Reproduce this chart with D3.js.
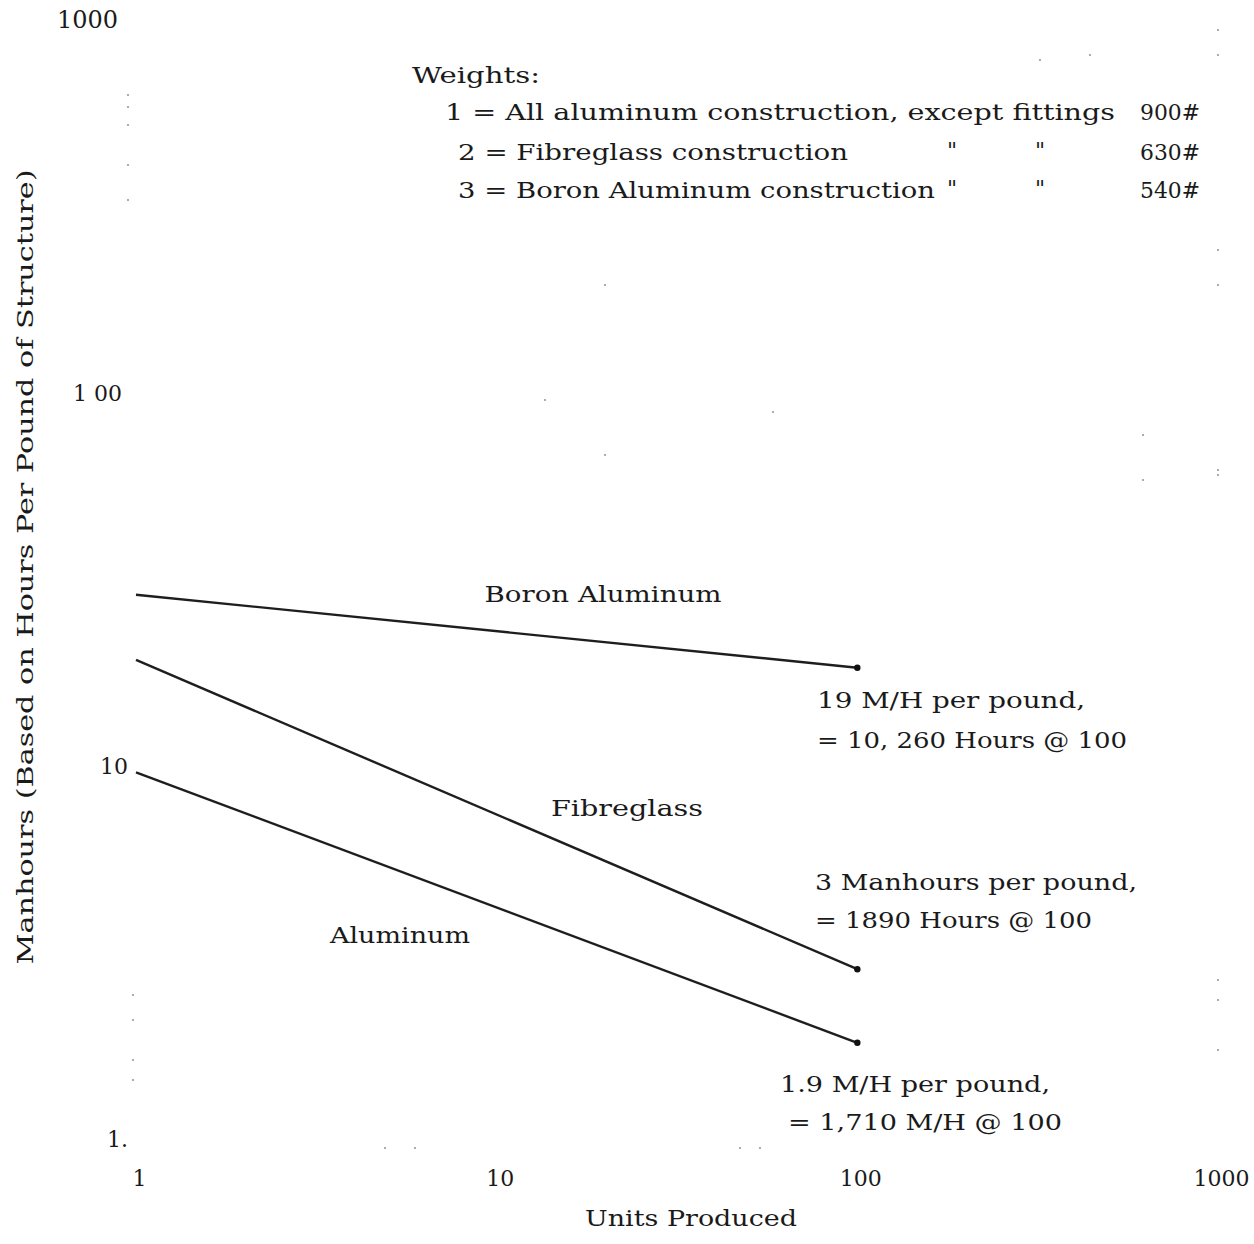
<!DOCTYPE html>
<html><head><meta charset="utf-8">
<script src="https://cdn.jsdelivr.net/npm/d3@7"></script>
<style>
html,body{margin:0;padding:0;background:#fff;}
text{font-family:"DejaVu Serif","Liberation Serif",serif;fill:#1a1a1a;}
</style></head>
<body>
<svg id="c" width="1254" height="1244"></svg>
<script>
// ---- data ----
const seriesNames = ["Aluminum", "Fibreglass", "Boron Aluminum"];
const unitsProduced = [1, 100];
const aluminumMH = [9.6, 1.81];
const fibreglassMH = [19.2, 2.85];
const boronMH = [28.7, 18.3];
const xTickValues = [1, 10, 100, 1000];
const xTickLabels = ["1", "10", "100", "1000"];
const yTickValues = [1, 10, 100, 1000];
const yTickLabels = ["1.", "10", "1 00", "1000"];
const weightLines = [
  ["1 = All aluminum construction, except fittings", "", "", "900#"],
  ["2 = Fibreglass construction", "\"", "\"", "630#"],
  ["3 = Boron Aluminum construction", "\"", "\"", "540#"]
];
const endNotes = [
  ["19 M/H per pound,", "= 10, 260 Hours @ 100"],
  ["3 Manhours per pound,", "= 1890 Hours @ 100"],
  ["1.9 M/H per pound,", "= 1,710 M/H @ 100"]
];

const svg = d3.select("#c");
const x = d3.scaleLog().domain([1, 1000]).range([136, 1218]);
const y = d3.scaleLog().domain([1, 1000]).range([1139, 19]);

function txt(s, px, py, opts = {}) {
  const t = svg.append("text").attr("x", px).attr("y", py).text(s)
    .style("font-size", (opts.size || 22) + "px");
  if (opts.anchor) t.attr("text-anchor", opts.anchor);
  if (opts.len) t.attr("textLength", opts.len).attr("lengthAdjust", "spacingAndGlyphs");
  if (opts.weight) t.style("font-weight", opts.weight);
  if (opts.rotate) t.attr("transform", `rotate(${opts.rotate},${px},${py})`);
  return t;
}

// faint scan dots along the former grid
const faint = svg.append("g").attr("fill", "#999");
[120, 132, 150, 190, 225].forEach(v => faint.append("circle").attr("cx", 128).attr("cy", v - 25).attr("r", 1.1));
[995, 1020, 1060, 1080].forEach(v => faint.append("circle").attr("cx", 133).attr("cy", v).attr("r", 1.1));
[[385,1148],[415,1148],[740,1148],[760,1148],[1218,30],[1218,55],[1218,250],[1218,285],[1218,470],[1218,475],[1218,980],[1218,1000],[1218,1050],[1143,435],[1143,480],[605,285],[605,455],[773,412],[545,400],[1040,60],[1090,55]].forEach(p => faint.append("circle").attr("cx", p[0]).attr("cy", p[1]).attr("r", 1.1));

// axis tick labels
const yAx = d3.axisLeft(y).tickValues(yTickValues).tickFormat((d, i) => yTickLabels[i]).tickSize(0).tickPadding(10);
const gy = svg.append("g").attr("transform", "translate(138,0)").call(yAx);
gy.select(".domain").remove();
gy.selectAll("text").style("font-size", "22px").style("font-family", "\"DejaVu Serif\",serif").attr("fill", "#111").attr("dy", "0.35em");
gy.selectAll("text").filter(d => d === 100).attr("transform", "translate(-6,0)");
gy.selectAll("text").filter(d => d === 1000).attr("transform", "translate(-10,0)").style("font-size", "24px");

const xAx = d3.axisBottom(x).tickValues(xTickValues).tickFormat((d, i) => xTickLabels[i]).tickSize(0).tickPadding(0);
const gx = svg.append("g").attr("transform", "translate(3,1170)").call(xAx);
gx.select(".domain").remove();
gx.selectAll("text").style("font-size", "22px").style("font-family", "\"DejaVu Serif\",serif").attr("fill", "#111").attr("dy", "0.71em");

// axis titles
txt("Units Produced", 691, 1226, {anchor: "middle", len: 212});
txt("Manhours (Based on Hours Per Pound of Structure)", 33, 567, {anchor: "middle", len: 795, rotate: -90});

// lines
const series = [aluminumMH, fibreglassMH, boronMH];
const line = d3.line().x((d, i) => x(unitsProduced[i])).y(d => y(d));
svg.append("g").selectAll("path").data(series).join("path")
  .attr("d", d => line(d)).attr("fill", "none").attr("stroke", "#1e1e1e").attr("stroke-width", 2.4);
svg.append("g").selectAll("circle").data(series).join("circle")
  .attr("cx", x(unitsProduced[1])).attr("cy", d => y(d[1])).attr("r", 3.2).attr("fill", "#111");

// series labels
txt(seriesNames[2], 603, 602, {anchor: "middle", len: 237});
txt(seriesNames[1], 627, 816, {anchor: "middle", len: 152});
txt(seriesNames[0], 400, 943, {anchor: "middle", len: 140});

// end notes
txt(endNotes[0][0], 817, 708, {len: 268});
txt(endNotes[0][1], 817, 748, {len: 310});
txt(endNotes[1][0], 815, 890, {len: 322});
txt(endNotes[1][1], 815, 928, {len: 277});
txt(endNotes[2][0], 780, 1092, {len: 270});
txt(endNotes[2][1], 788, 1130, {len: 274});

// weights block
txt("Weights:", 412, 83, {len: 128});
const rowY = [120, 160, 198];
const rowLen = [670, 390, 477];
const rowX = [445, 458, 458];
weightLines.forEach((r, i) => {
  txt(r[0], rowX[i], rowY[i], {len: rowLen[i]});
  if (r[1]) txt(r[1], 952, rowY[i] - 2, {anchor: "middle"});
  if (r[2]) txt(r[2], 1040, rowY[i] - 2, {anchor: "middle"});
  txt(r[3], 1140, rowY[i], {len: 60});
});
</script>
</body></html>
